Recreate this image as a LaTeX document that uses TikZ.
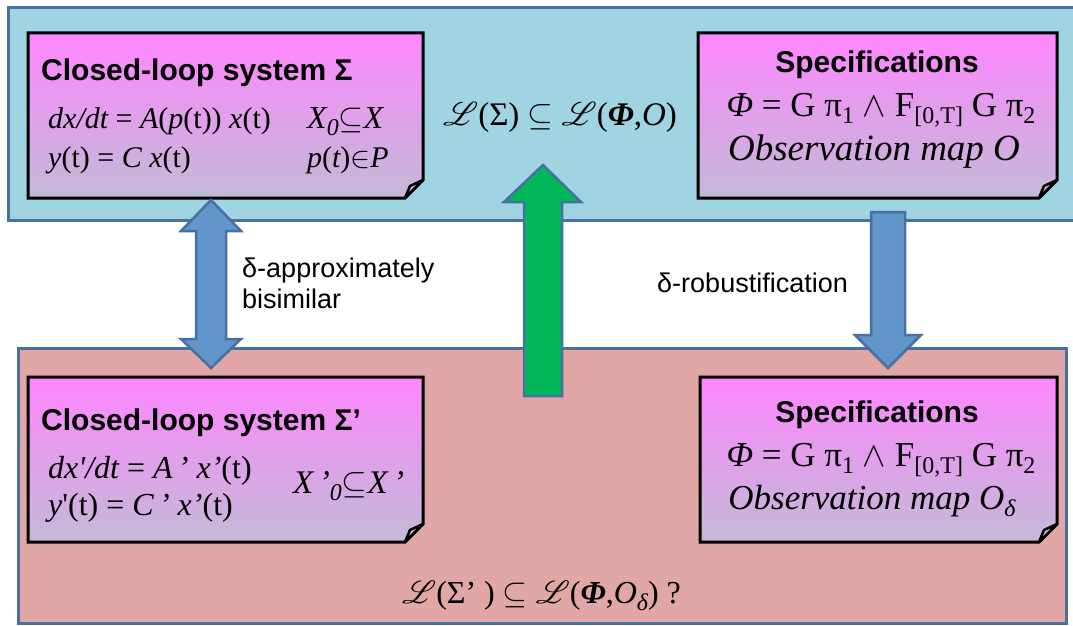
\RequirePackage{fix-cm}
\documentclass[tikz,border=0pt]{standalone}
\usepackage{fontspec}
\setmainfont{Liberation Serif}
\newfontfamily\arial{Liberation Sans}
\DeclareFontFamily{U}{myrsfs}{}
\DeclareFontShape{U}{myrsfs}{m}{n}{<-> rsfs10}{}
\DeclareMathAlphabet{\myscr}{U}{myrsfs}{m}{n}
\newcommand{\lowsub}[2][22]{\raisebox{-0.22em}{\fontsize{#1}{#1}\selectfont #2}}
\definecolor{panelblue}{RGB}{161,212,226}
\definecolor{panelpink}{RGB}{225,166,166}
\definecolor{panelborder}{RGB}{72,112,160}
\definecolor{notetop}{RGB}{255,134,255}
\definecolor{notebot}{RGB}{194,186,214}
\definecolor{notefold}{RGB}{205,190,220}
\definecolor{arrowblue}{RGB}{98,150,202}
\definecolor{arrowgreen}{RGB}{0,184,90}
\tikzset{
  panel/.style={draw=panelborder, line width=3pt},
  notebox/.style={top color=notetop, bottom color=notebot, draw=black, line width=3pt, line join=miter},
  notefoldst/.style={fill=notefold, draw=black, line width=2.5pt, line join=round},
  blockarrow/.style={draw=panelborder, line width=2.5pt, line join=miter},
  lbl/.style={font=\arial\fontsize{27}{32}\selectfont, anchor=base west, inner sep=0},
  ttl/.style={font=\arial\bfseries\fontsize{30}{36}\selectfont, inner sep=0},
  mth/.style={font=\fontsize{30}{36}\selectfont, inner sep=0},
  mthb/.style={font=\fontsize{32}{38}\selectfont, inner sep=0},
  mthbig/.style={font=\fontsize{33}{40}\selectfont, inner sep=0},
  mthspec/.style={font=\fontsize{35}{42}\selectfont, inner sep=0},
  mthobs/.style={font=\fontsize{37}{44}\selectfont, inner sep=0},
}
\begin{document}
\begin{tikzpicture}[x=1pt,y=-1pt]
\useasboundingbox (0,0) rectangle (1073,626);
\fill[white] (0,0) rectangle (1073,626);
% panels
\path[panel, fill=panelblue] (8,8) rectangle (1080,220);
\path[panel, fill=panelpink] (18,348) rectangle (1066,623);
% note boxes
\path[notebox] (28,33) -- (423,33) -- (423,180) -- (405,198) -- (28,198) -- cycle;
\path[notefoldst] (405,198) -- (410,186) -- (423,180) -- cycle;
\path[notebox] (698,33) -- (1057,33) -- (1057,180) -- (1039,198) -- (698,198) -- cycle;
\path[notefoldst] (1039,198) -- (1044,186) -- (1057,180) -- cycle;
\path[notebox] (28,377) -- (423,377) -- (423,524) -- (405,542) -- (28,542) -- cycle;
\path[notefoldst] (405,542) -- (410,530) -- (423,524) -- cycle;
\path[notebox] (700,377) -- (1057,377) -- (1057,524) -- (1039,542) -- (700,542) -- cycle;
\path[notefoldst] (1039,542) -- (1044,530) -- (1057,524) -- cycle;
% block arrows
\path[blockarrow, fill=arrowblue] (211,200) -- (241,231) -- (226,231) -- (226,339) -- (241,339) -- (211,368) -- (181,339) -- (196,339) -- (196,231) -- (181,231) -- cycle;
\path[blockarrow, fill=arrowgreen] (543,165) -- (581,202) -- (562,202) -- (562,396) -- (524,396) -- (524,202) -- (504,202) -- cycle;
\path[blockarrow, fill=arrowblue] (871,212) -- (905,212) -- (905,335) -- (921,335) -- (888,368) -- (855,335) -- (871,335) -- cycle;
% box 1
\node[ttl, anchor=base west] (t1) at (41,81) {Closed-loop system Σ};
\node[mth, anchor=base west] (e1) at (48,128) {{\itshape dx/dt} = {\itshape A}({\itshape p}(t)) {\itshape x}(t)};
\node[mth, anchor=base west] (e2) at (48,167) {{\itshape y}(t) = {\itshape C x}(t)};
\node[mthb, anchor=base west] (e3) at (307,128) {{\itshape X}\lowsub[24]{\itshape 0}$\subseteq${\itshape X}};
\node[mth, anchor=base east] (e4) at (389,167) {{\itshape p}({\itshape t})$\in${\itshape P}};
% center relation
\node[mthbig, anchor=base] (rel1) at (560,125) {$\myscr{L}$(Σ) $\subseteq$ $\myscr{L}$({\bfseries\itshape Φ},{\itshape O})};
% box 2
\node[ttl, anchor=base] (t2) at (877,72) {Specifications};
\node[mthspec, anchor=base] (s1) at (881,116) {{\itshape Φ} = G π\lowsub[24]{1} $\wedge$ F\lowsub[24]{[0,T]} G π\lowsub[24]{2}};
\node[mthobs, anchor=base] (s2) at (874,160) {\itshape Observation map O};
% box 3
\node[ttl, anchor=base west] (t3) at (41,430) {Closed-loop system Σ’};
\node[mthb, anchor=base west] (f1) at (48,478) {{\itshape dx\textquotesingle/dt} = {\itshape A\,’ x’}(t)};
\node[mthb, anchor=base west] (f2) at (48,515) {{\itshape y}\textquotesingle(t) = {\itshape C\,’ x’}(t)};
\node[mthbig, anchor=base west] (f3) at (293,493) {{\itshape X\,’}\lowsub[24]{\itshape 0}$\subseteq${\itshape X\,’}};
% box 4
\node[ttl, anchor=base] (t4) at (877,422) {Specifications};
\node[mthspec, anchor=base] (g1) at (881,466) {{\itshape Φ} = G π\lowsub[24]{1} $\wedge$ F\lowsub[24]{[0,T]} G π\lowsub[24]{2}};
\node[mthspec, anchor=base] (g2) at (872,509) {\itshape Observation map O\lowsub[24]{δ}};
% bottom relation
\node[mthb, anchor=base west] (rel2) at (402,603) {$\myscr{L}$(Σ’ ) $\subseteq$ $\myscr{L}$({\bfseries\itshape Φ},{\itshape O}\lowsub[24]{\itshape δ}) ?};
% labels
\node[lbl] (la1) at (242,277) {δ-approximately};
\node[lbl] (la2) at (242,308) {bisimilar};
\node[lbl] (lb) at (657,292) {δ-robustification};
\end{tikzpicture}
\end{document}
